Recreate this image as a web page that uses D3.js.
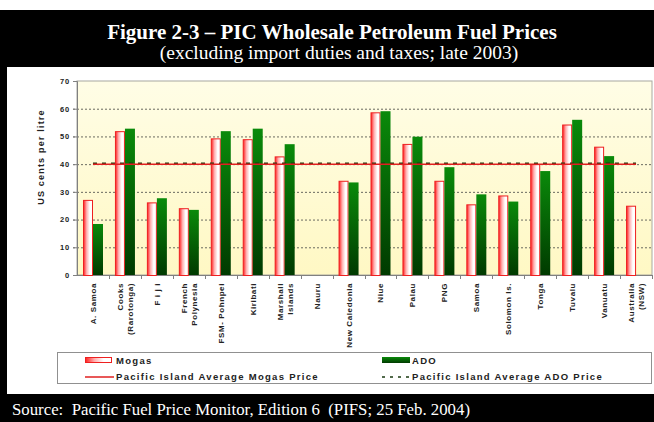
<!DOCTYPE html>
<html>
<head>
<meta charset="utf-8">
<script src="https://cdn.jsdelivr.net/npm/d3@7"></script>
<style>
  body { margin: 0; background: #fff; }
  svg { display: block; }
</style>
</head>
<body>
<div id="chart"></div>
<script>
// Chart data
const countries = ["A. Samoa", "Cooks|(Rarotonga)", "F i j i", "French|Polynesia", "FSM- Pohnpei", "Kiribati",
  "Marshall|Islands", "Nauru", "New Caledonia", "Niue", "Palau", "PNG", "Samoa", "Solomon Is.",
  "Tonga", "Tuvalu", "Vanuatu", "Australia|(NSW)"];
const mogas = [27.1, 51.9, 26.2, 24.1, 49.3, 49.0, 42.8, null, 34.0, 58.7, 47.3, 34.0, 25.5, 28.7, 40.0, 54.3, 46.3, 25.0];
const ado = [18.4, 52.8, 27.7, 23.5, 51.9, 52.8, 47.2, null, 33.4, 59.1, 49.9, 38.9, 29.1, 26.5, 37.5, 56.0, 42.9, null];
const mogasAvg = 40.0;
const adoAvg = 40.3;
const yTicks = [0, 10, 20, 30, 40, 50, 60, 70];
const series = ["Mogas", "ADO"];

const W = 654, H = 422;
const plot = { left: 77, right: 652, top: 81, bottom: 275 };

const svg = d3.select("#chart").append("svg")
  .attr("width", W).attr("height", H)
  .style("font-family", "Liberation Sans, Arial, sans-serif");

// gradients
const defs = svg.append("defs");
const bg = defs.append("linearGradient").attr("id", "bg").attr("x1", 0).attr("y1", 0).attr("x2", 0).attr("y2", 1);
bg.append("stop").attr("offset", "0%").attr("stop-color", "#fffde6");
bg.append("stop").attr("offset", "100%").attr("stop-color", "#fff8c4");

const mg = defs.append("linearGradient").attr("id", "mg").attr("x1", 0).attr("y1", 0).attr("x2", 1).attr("y2", 0);
mg.append("stop").attr("offset", "0%").attr("stop-color", "#ff2020");
mg.append("stop").attr("offset", "35%").attr("stop-color", "#ffb0b0");
mg.append("stop").attr("offset", "70%").attr("stop-color", "#ffffff");
mg.append("stop").attr("offset", "100%").attr("stop-color", "#ffffff");

const ag = defs.append("linearGradient").attr("id", "ag").attr("x1", 0).attr("y1", 0).attr("x2", 0).attr("y2", 1);
ag.append("stop").attr("offset", "0%").attr("stop-color", "#0a8a0a");
ag.append("stop").attr("offset", "100%").attr("stop-color", "#003a00");

// frame: white top strip, black title block, white panel, black source bar
svg.append("rect").attr("x", 0).attr("y", 10).attr("width", W).attr("height", H - 10).attr("fill", "#000");
svg.append("rect").attr("x", 7).attr("y", 67).attr("width", W - 7).attr("height", 327).attr("fill", "#fff");

svg.append("text").attr("x", 332).attr("y", 39).attr("text-anchor", "middle")
  .attr("fill", "#fff").style("font-family", "Liberation Serif, Times New Roman, serif")
  .style("font-size", "21px").style("font-weight", "bold")
  .text("Figure 2-3 \u2013 PIC Wholesale Petroleum Fuel Prices");
svg.append("text").attr("x", 339).attr("y", 59).attr("text-anchor", "middle")
  .attr("fill", "#fff").style("font-family", "Liberation Serif, Times New Roman, serif")
  .style("font-size", "19.5px")
  .text("(excluding import duties and taxes; late 2003)");
svg.append("text").attr("x", 12).attr("y", 415)
  .attr("fill", "#fff").style("font-family", "Liberation Serif, Times New Roman, serif")
  .style("font-size", "16.8px").style("white-space", "pre")
  .text("Source:  Pacific Fuel Price Monitor, Edition 6  (PIFS; 25 Feb. 2004)");

// scales
const x0 = d3.scaleBand().domain(countries).range([plot.left, plot.right]);
const x1 = d3.scaleBand().domain(series).range([6, 26]);
const y = d3.scaleLinear().domain([0, 70]).range([plot.bottom, plot.top]);

// plot background
svg.append("rect").attr("x", plot.left).attr("y", plot.top)
  .attr("width", plot.right - plot.left).attr("height", plot.bottom - plot.top)
  .attr("fill", "url(#bg)").attr("stroke", "#a8a8a0").attr("stroke-width", 1);

// gridlines
svg.append("g").selectAll("line")
  .data(yTicks.filter(d => d > 0 && d < 70))
  .join("line")
  .attr("x1", plot.left - 4).attr("x2", plot.right)
  .attr("y1", d => y(d) + 0.5).attr("y2", d => y(d) + 0.5)
  .attr("stroke", "#6a6a60").attr("stroke-width", 1).attr("stroke-dasharray", "2,2");

// y axis
const yAxis = svg.append("g")
  .attr("transform", `translate(${plot.left},0)`)
  .call(d3.axisLeft(y).tickValues(yTicks).tickSize(4).tickPadding(3));
yAxis.select(".domain").attr("stroke", "#808080");
yAxis.selectAll(".tick line").attr("stroke", "#808080");
yAxis.selectAll(".tick text").style("font-size", "7.5px").style("font-weight", "bold")
  .style("letter-spacing", "0.8px").attr("fill", "#222");

svg.append("text")
  .attr("transform", `translate(44,157) rotate(-90)`)
  .attr("text-anchor", "middle")
  .style("font-size", "9px").style("font-weight", "bold").style("letter-spacing", "1.2px").attr("fill", "#222")
  .text("US cents per litre");

// x axis ticks at band boundaries
const xAxis = svg.append("g")
  .attr("transform", `translate(0,${plot.bottom})`);
xAxis.append("line").attr("x1", plot.left).attr("x2", plot.right).attr("y1", 0.5).attr("y2", 0.5).attr("stroke", "#808080");
xAxis.selectAll("line.tk")
  .data(countries)
  .join("line").attr("class", "tk")
  .attr("x1", d => Math.round(x0(d) + x0.bandwidth()) + 0.5)
  .attr("x2", d => Math.round(x0(d) + x0.bandwidth()) + 0.5)
  .attr("y1", 0).attr("y2", 4).attr("stroke", "#808080");

// x labels
const labels = svg.append("g").selectAll("text")
  .data(countries)
  .join("text")
  .attr("transform", d => `translate(${x0(d) + x0.bandwidth() / 2},283) rotate(-90)`)
  .attr("text-anchor", "end")
  .style("font-size", "8px").style("font-weight", "bold").style("letter-spacing", "0.6px").attr("fill", "#222");
labels.each(function(d) {
  const parts = d.split("|");
  const t = d3.select(this);
  parts.forEach((p, i) => {
    const off = parts.length === 1 ? 3 : (i === 0 ? -2 : 8);
    t.append("tspan").attr("x", 0).attr("y", off).text(p);
  });
});

// bars
const rows = countries.map((c, i) => ({ c, Mogas: mogas[i], ADO: ado[i] }));
svg.append("g").selectAll("g")
  .data(rows)
  .join("g")
  .attr("transform", d => `translate(${x0(d.c)},0)`)
  .selectAll("rect")
  .data(d => series.map(s => ({ s, v: d[s] })).filter(e => e.v != null))
  .join("rect")
  .attr("x", d => x1(d.s) + (d.s === "Mogas" ? 0.5 : 0))
  .attr("y", d => y(d.v) + (d.s === "Mogas" ? 0.5 : 0))
  .attr("width", d => d.s === "Mogas" ? x1.bandwidth() - 1 : x1.bandwidth())
  .attr("height", d => y(0) - y(d.v))
  .attr("fill", d => d.s === "Mogas" ? "url(#mg)" : "url(#ag)")
  .attr("stroke", d => d.s === "Mogas" ? "#ee2020" : "none")
  .attr("stroke-width", 1);

// average lines (first to last category centre)
const xa = x0(countries[0]) + x0.bandwidth() / 2;
const xb = x0(countries[countries.length - 1]) + x0.bandwidth() / 2;
svg.append("line").attr("x1", xa).attr("x2", xb)
  .attr("y1", y(adoAvg)).attr("y2", y(adoAvg))
  .attr("stroke", "#1a3a10").attr("stroke-width", 1.5).attr("stroke-dasharray", "4,5");
svg.append("line").attr("x1", xa).attr("x2", xb)
  .attr("y1", y(mogasAvg)).attr("y2", y(mogasAvg))
  .attr("stroke", "#e02020").attr("stroke-width", 1.5);

// legend
const lg = svg.append("g");
lg.append("rect").attr("x", 57.5).attr("y", 352.5).attr("width", 594).attr("height", 31)
  .attr("fill", "#fff").attr("stroke", "#909090");
const lt = (x, yy, s) => lg.append("text").attr("x", x).attr("y", yy)
  .style("font-size", "9.5px").style("font-weight", "bold").style("letter-spacing", "1.3px")
  .attr("fill", "#222").text(s);
lg.append("rect").attr("x", 85.5).attr("y", 357.5).attr("width", 26).attr("height", 5)
  .attr("fill", "url(#mg)").attr("stroke", "#ee2020");
lt(116, 364, "Mogas");
lg.append("line").attr("x1", 85).attr("x2", 114).attr("y1", 377).attr("y2", 377)
  .attr("stroke", "#e02020").attr("stroke-width", 1.5);
lt(116, 380, "Pacific Island Average Mogas Price");
lg.append("rect").attr("x", 382).attr("y", 357).attr("width", 28).attr("height", 6).attr("fill", "url(#ag)");
lt(412, 364, "ADO");
lg.append("line").attr("x1", 382).attr("x2", 410).attr("y1", 377).attr("y2", 377)
  .attr("stroke", "#1a3a10").attr("stroke-width", 1.5).attr("stroke-dasharray", "3,5");
lt(412, 380, "Pacific Island Average ADO Price");
</script>
</body>
</html>
